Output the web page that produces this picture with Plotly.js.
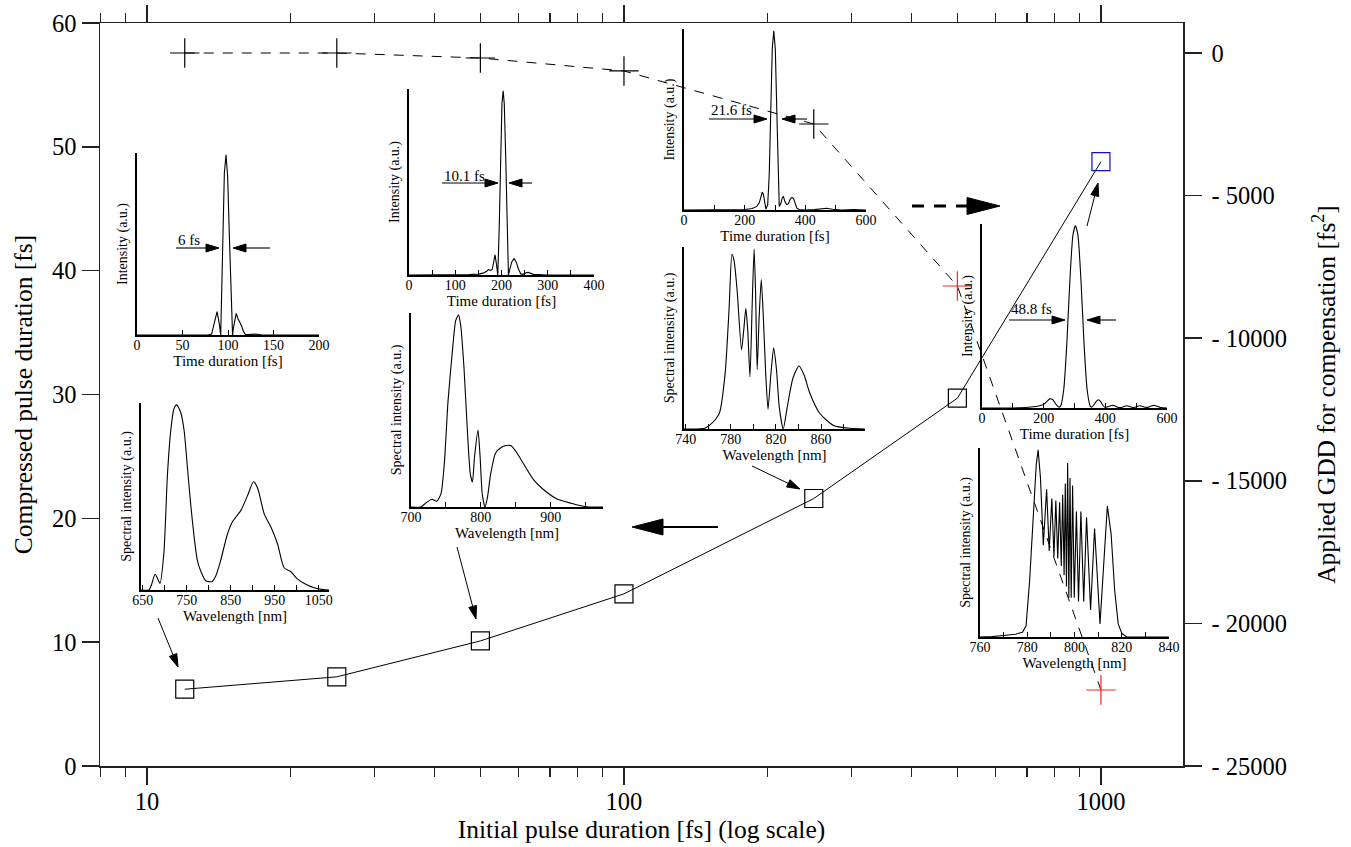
<!DOCTYPE html>
<html><head><meta charset="utf-8">
<script src="https://cdn.plot.ly/plotly-3.0.1.min.js"></script>
<style>html,body{margin:0;padding:0;background:#fff}</style>
</head><body><div id="chart" style="width:1351px;height:847px"></div>
<script>
// ---------- main data ----------
const initialDuration = [12, 25, 50, 100, 250, 500, 1000];
const compressedDuration = [6.2, 7.2, 10.1, 13.9, 21.6, 29.7, 48.8];
const appliedGDD = [0, 0, -175, -630, -2490, -8170, -22335];
const squareColors = ['black','black','black','black','black','black','#1010c0'];
const crossColors = ['black','black','black','black','black','#ff2020','#ff2020'];
const xMajorTicks = [10, 100, 1000];
const xMinorTicks = [8,9,20,30,40,50,60,70,80,90,200,300,400,500,600,700,800,900];
const yLeftTicks = [0,10,20,30,40,50,60];
const yRightTicks = [0,-5000,-10000,-15000,-20000,-25000];
const yRightLabels = ['0','- 5000','- 10000','- 15000','- 20000','- 25000'];

// ---------- inset data ----------
// inset 1: temporal pulse, 6 fs
const t6 = [0,78,82,85,88,90.5,92,94,96,97.8,99.6,101.5,103.5,105,106,108,109,111,113,115,117,119,122,126,130,134,138,200];
const i6 = [0,0,0.005,0.07,0.13,0.06,0,0.45,0.9,1.0,0.88,0.55,0.15,0,0.04,0.11,0.12,0.09,0.07,0.05,0.02,0.003,0.002,0.004,0.005,0.003,0,0];
// inset 2: spectrum for 6 fs
const w6 = [646,664,670,678,684,689,698,706,714,721,727,736,744,751.5,759,767,774,782,793,807,816,827,842,854,873,888,901.5,911,926,941,956,971,986,1001,1017,1039,1060,1073];
const s6 = [0,0,0.03,0.085,0.06,0.035,0.2,0.62,0.87,0.98,1.0,0.96,0.86,0.66,0.46,0.28,0.16,0.1,0.05,0.045,0.077,0.16,0.30,0.37,0.43,0.51,0.585,0.55,0.41,0.34,0.25,0.12,0.1,0.06,0.035,0.012,0.002,0];
// inset 3: temporal pulse, 10.1 fs
const t10 = [0,100,130,150,160,168,172,176,180,183,186,189,192,195,198,201,203.6,206,209,212,215,218,222,227,232,237,242,248,253,258,263,270,280,300,400];
const i10 = [0,0,0.002,0.005,0.01,0.02,0.03,0.025,0.03,0.07,0.11,0.06,0,0.25,0.65,0.93,1,0.93,0.65,0.25,0,0.03,0.07,0.09,0.07,0.03,0.005,0.005,0.012,0.014,0.008,0.002,0.003,0,0];
// inset 4: spectrum for 10.1 fs
const w10 = [700,714,721,730,737,743,748,753,760,764,768,771,776,781,785,788,791,796,799,802,806,809.5,814,821,829,836,843,852,862,876,890,910,929,948,975];
const s10 = [0,0,0.02,0.04,0.03,0.07,0.24,0.55,0.84,0.97,1.0,0.95,0.72,0.38,0.17,0.13,0.26,0.40,0.26,0.07,0,0.05,0.17,0.28,0.31,0.32,0.32,0.28,0.22,0.14,0.09,0.04,0.02,0.003,0];
// inset 5: temporal pulse, 21.6 fs
const t21 = [0,150,200,225,240,248,254,258,262,266,270,276,281,286,291,296,301,306,311,314,320,324,328,332,338,344,350,356,361,366,372,380,400,430,450,470,490,520,560,600];
const i21 = [0,0,0.003,0.008,0.02,0.04,0.08,0.1,0.085,0.04,0.005,0.03,0.2,0.55,0.9,1.0,0.9,0.55,0.2,0.02,0.04,0.07,0.075,0.05,0.03,0.035,0.06,0.07,0.065,0.04,0.01,0.003,0,0.002,0.008,0.01,0.004,0,0.003,0];
// inset 6: spectrum for 21.6 fs
const w21 = [738.5,749,757,761,766,770,775,778.5,781,783,785.6,789.5,791.5,793.3,795,797,799,800.7,802,803.4,805,807,809,811,813,815.5,818,820.5,823,826.5,830,835,840.4,845,850,859,871,886,899];
const s21 = [0,0,0.004,0.02,0.05,0.09,0.31,0.67,0.97,0.93,0.77,0.44,0.55,0.67,0.55,0.29,0.7,1.0,0.75,0.33,0.6,0.83,0.6,0.3,0.11,0.3,0.45,0.33,0.12,0,0.12,0.28,0.35,0.3,0.2,0.086,0.02,0.004,0];
// inset 7: temporal pulse, 48.8 fs
const t48 = [0,80,150,180,200,210,220,230,240,250,255,265,275,285,295,303,311,321,331,341,351,356,362,370,378,385,392,400,410,420,430,440,450,460,470,480,490,500,510,520,530,540,550,560,570,580,600];
const i48 = [0,0,0.004,0.01,0.02,0.035,0.05,0.045,0.02,0.005,0.01,0.1,0.35,0.7,0.95,1,0.95,0.7,0.35,0.1,0.01,0.005,0.015,0.035,0.045,0.035,0.015,0.003,0.008,0.014,0.012,0.004,0.002,0.008,0.012,0.008,0.002,0.006,0.012,0.01,0.004,0.005,0.012,0.014,0.008,0.002,0];
// inset 8: spectrum for 48.8 fs
const w48 = [760,765,770,775,778,779.5,781,782.5,783.8,784.6,785.6,786.8,788.2,789.3,790.4,791.3,792.1,792.9,793.7,794.4,795.0,795.6,796.1,796.6,797.1,797.6,798.1,798.6,799.2,799.9,800.8,801.7,802.7,803.9,805.1,806.8,808.5,810.8,812.5,813.9,815.5,817,818.5,820,822,840];
const s48 = [0,0.002,0.008,0.015,0.025,0.06,0.3,0.65,0.92,1.0,0.85,0.49,0.79,0.46,0.74,0.43,0.73,0.42,0.72,0.38,0.76,0.33,0.82,0.27,0.93,0.21,0.85,0.21,0.81,0.21,0.67,0.19,0.67,0.19,0.64,0.145,0.58,0.07,0.4,0.70,0.55,0.25,0.07,0.02,0,0];
const fwhmLabels = ['6 fs','10.1 fs','21.6 fs','48.8 fs'];

// ---------- geometry helpers ----------
const W=1351,H=847,ML=100,MR=168,MT=23,MB=81;
const PW=W-ML-MR, PH=H-MT-MB;
const px = x => (x-ML)/PW;
const py = y => (H-MB-y)/PH;
const FONT = 'Liberation Serif, Times New Roman, serif';

const insets = [
  {b:[137,319,153,335], xr:[0,200], t0:0, dt:50, md:null, xs:t6, ys:i6, sm:false, xt:'Time duration [fs]', yt:'Intensity (a.u.)'},
  {b:[141,329,403,590], xr:[646,1073], t0:650, dt:100, md:50, xs:w6, ys:s6, sm:true, xt:'Wavelength [nm]', yt:'Spectral intensity (a.u.)'},
  {b:[409,594,89,275], xr:[0,400], t0:0, dt:100, md:50, xs:t10, ys:i10, sm:false, xt:'Time duration [fs]', yt:'Intensity (a.u.)'},
  {b:[411,603,313,507], xr:[700,975], t0:700, dt:100, md:50, xs:w10, ys:s10, sm:true, xt:'Wavelength [nm]', yt:'Spectral intensity (a.u.)'},
  {b:[684,866,29,210], xr:[0,600], t0:0, dt:200, md:100, xs:t21, ys:i21, sm:false, xt:'Time duration [fs]', yt:'Intensity (a.u.)'},
  {b:[684,865,247,429], xr:[738.5,899], t0:740, dt:40, md:20, xs:w21, ys:s21, sm:true, xt:'Wavelength [nm]', yt:'Spectral intensity (a.u.)'},
  {b:[982,1167,224,408], xr:[0,600], t0:0, dt:200, md:100, xs:t48, ys:i48, sm:true, xt:'Time duration [fs]', yt:'Intensity (a.u.)'},
  {b:[980,1169,448,637], xr:[760,840], t0:760, dt:20, md:10, xs:w48, ys:s48, sm:false, xt:'Wavelength [nm]', yt:'Spectral intensity (a.u.)'}
];

const traces = [
  {x:initialDuration, y:compressedDuration, xaxis:'x', yaxis:'y', mode:'lines+markers', type:'scatter',
   line:{color:'black', width:1},
   marker:{symbol:'square-open', size:18, color:squareColors, line:{width:1.2, color:squareColors}}},
  {x:initialDuration, y:appliedGDD, xaxis:'x', yaxis:'y2', mode:'lines+markers', type:'scatter',
   line:{color:'black', width:1, dash:'10px,9px'},
   marker:{symbol:'cross-thin', size:21, color:crossColors, line:{width:1.2, color:crossColors}}}
];

const TICKF = 24.5, TITLEF = 25.5;
const layout = {
  width:W, height:H, showlegend:false,
  margin:{l:ML, r:MR, t:MT, b:MB, pad:0},
  paper_bgcolor:'white', plot_bgcolor:'rgba(0,0,0,0)',
  font:{family:FONT, color:'black'},
  xaxis:{type:'log', range:[0.9015, 3.172], domain:[0,1], anchor:'y',
    showline:true, linecolor:'#222', linewidth:1.5, mirror:'ticks',
    ticks:'outside', ticklen:17, tickwidth:1.5, tickcolor:'#222',
    tickmode:'array', tickvals:xMajorTicks, ticktext:xMajorTicks.map(String), ticklabelstandoff:-4,
    minor:{tickmode:'array', tickvals:xMinorTicks, ticks:'outside', ticklen:9, tickwidth:1.2, tickcolor:'#222', showgrid:false},
    tickfont:{size:TICKF, family:FONT}, showgrid:false, zeroline:false,
    title:{text:'Initial pulse duration [fs] (log scale)', font:{size:TITLEF, family:FONT}, standoff:4}},
  yaxis:{range:[0,60], domain:[0,1], anchor:'x', showline:true, linecolor:'#222', linewidth:1.5,
    ticks:'outside', ticklen:17, tickwidth:1.5, tickcolor:'#222', tickmode:'array', tickvals:yLeftTicks,
    tickfont:{size:TICKF, family:FONT}, showgrid:false, zeroline:false,
    title:{text:'Compressed pulse duration [fs]', font:{size:TITLEF, family:FONT}, standoff:12}},
  yaxis2:{range:[-25000,1052], overlaying:'y', side:'right', anchor:'x', showline:true, linecolor:'#222', linewidth:1.5,
    ticks:'outside', ticklen:17, tickwidth:1.5, tickcolor:'#222', tickmode:'array', tickvals:yRightTicks, ticktext:yRightLabels,
    ticklabelstandoff:5,
    tickfont:{size:TICKF, family:FONT}, showgrid:false, zeroline:false,
    title:{text:'Applied GDD for compensation [fs<sup>2</sup>]', font:{size:TITLEF, family:FONT}, standoff:31}},
  shapes:[], annotations:[]
};

insets.forEach((ins, k) => {
  const xn = k+2, yn = k+3;
  const [x0,x1,y0,y1] = ins.b;
  traces.push({x:ins.xs, y:ins.ys, xaxis:'x'+xn, yaxis:'y'+yn, mode:'lines', type:'scatter',
    line:ins.sm ? {color:'black', width:1.1, shape:'spline', smoothing:0.6} : {color:'black', width:1.1}, hoverinfo:'skip'});
  const xa = {domain:[px(x0), px(x1)], anchor:'y'+yn, range:ins.xr, showline:true, linecolor:'black', linewidth:1.6,
    ticks:'inside', ticklen:5, tickwidth:1, tickcolor:'black', tick0:ins.t0, dtick:ins.dt, ticklabelstandoff:-3,
    tickfont:{size:14, family:FONT}, showgrid:false, zeroline:false, fixedrange:true,
    title:{text:ins.xt, font:{size:15, family:FONT}, standoff:0}};
  if (ins.md) xa.minor = {dtick:ins.md, tick0:ins.t0, ticks:'inside', ticklen:5, tickwidth:1, tickcolor:'black', showgrid:false};
  layout['xaxis'+xn] = xa;
  layout['yaxis'+yn] = {domain:[py(y1), py(y0)], anchor:'x'+xn, range:[0,1.01], showline:true, linecolor:'black', linewidth:1.6,
    ticks:'', showticklabels:false, showgrid:false, zeroline:false, fixedrange:true,
    title:{text:ins.yt, font:{size:14, family:FONT}, standoff:4}};
});

// ---------- arrows ----------
function arrow(x0,y0,x1,y1,hl,hw,lw,dash){
  const dx=x1-x0, dy=y1-y0, len=Math.hypot(dx,dy), ux=dx/len, uy=dy/len;
  const bx=x1-ux*hl, by=y1-uy*hl, nx=-uy, ny=ux, h=hw/2;
  layout.shapes.push({type:'line', xref:'paper', yref:'paper', x0:px(x0), y0:py(y0), x1:px(bx), y1:py(by),
    line:{color:'black', width:lw, dash:dash||'solid'}});
  layout.shapes.push({type:'path', xref:'paper', yref:'paper',
    path:'M'+px(x1)+','+py(y1)+' L'+px(bx+nx*h)+','+py(by+ny*h)+' L'+px(bx-nx*h)+','+py(by-ny*h)+' Z',
    fillcolor:'black', line:{color:'black', width:1}});
}
// FWHM markers inside the temporal insets
const fwhmPos = [
  {l:[176,219], r:[270,233], y:248, tx:176, ty:240},
  {l:[442,498], r:[532,509], y:183, tx:442, ty:176},
  {l:[709,767], r:[807,782], y:119, tx:709, ty:110},
  {l:[1009,1065], r:[1116,1087], y:320, tx:1009, ty:309}
];
fwhmPos.forEach((f,i) => {
  arrow(f.l[0], f.y, f.l[1], f.y, 13, 8, 1.1);
  arrow(f.r[0], f.y, f.r[1], f.y, 13, 8, 1.1);
  layout.annotations.push({xref:'paper', yref:'paper', x:px(f.tx), y:py(f.ty), xanchor:'left', yanchor:'middle',
    text:fwhmLabels[i], showarrow:false, font:{size:15, family:FONT}});
});
// pointer arrows from insets to data points
arrow(158,618,178,667,13,8,1);
arrow(457,547,476,619,13,8,1);
arrow(752,466,800,489,13,8,1);
arrow(1087,226,1098,183,13,8,1);
// big arrows indicating axis
arrow(912,206,1000,206,33,17,3,'12px,10px');
arrow(718,527,632,527,31,16,2);

Plotly.newPlot('chart', traces, layout, {displayModeBar:false, staticPlot:true});
</script>
</body></html>
